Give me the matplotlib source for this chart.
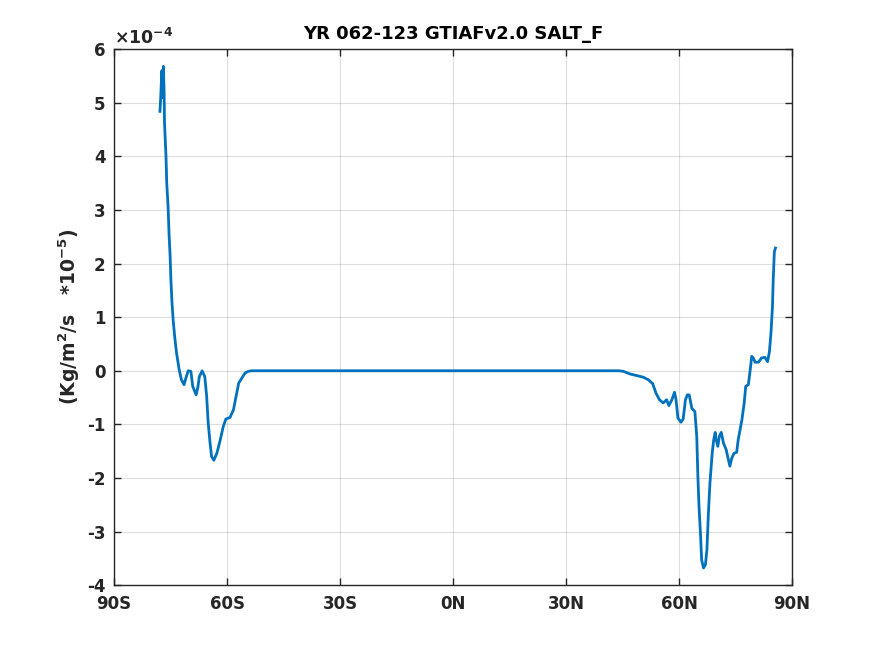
import matplotlib
matplotlib.use("Agg")
import matplotlib.pyplot as plt
import numpy as np

plt.rcParams['font.family'] = ['DejaVu Sans']
plt.rcParams['font.weight'] = 'bold'
plt.rcParams['mathtext.default'] = 'bf'

# latitude (deg, negative = south) and SALT_F in units of 1e-4
lat_south = [-77.8, -77.6, -77.3, -77.1, -76.9, -76.7, -76.6, -76.2, -76.0, -75.65,
             -75.4, -75.1, -74.9, -74.6, -74.3, -73.9, -73.4, -72.7, -72.1, -71.4,
             -70.9, -70.3, -69.6, -69.1, -68.2, -67.7, -67.35, -66.6, -65.9, -65.4,
             -65.0, -64.5, -64.1, -63.5, -62.7, -61.9, -61.0, -60.3, -59.2, -58.3,
             -57.6, -56.9, -56.1, -55.2, -54.3, -53.4]
val_south = [4.84, 5.10, 5.60, 5.10, 5.68, 5.20, 4.63, 4.00, 3.50, 3.07,
             2.57, 2.13, 1.70, 1.26, 0.95, 0.64, 0.33, 0.02, -0.17, -0.26,
             -0.13, 0.00, -0.01, -0.29, -0.45, -0.29, -0.11, 0.00, -0.11, -0.48,
             -0.97, -1.35, -1.60, -1.67, -1.54, -1.32, -1.04, -0.90, -0.87, -0.73,
             -0.48, -0.23, -0.14, -0.04, -0.01, 0.00]
lat_mid = [-40.0, -20.0, 0.0, 20.0, 40.0]
val_mid = [0.0, 0.0, 0.0, 0.0, 0.0]
lat_north = [43.9, 45.2, 47.0, 48.8, 50.5, 51.9, 53.0, 53.9, 54.8, 55.8,
             56.7, 57.3, 58.1, 58.8, 59.2, 59.7, 60.5, 61.1, 61.7, 62.2,
             62.7, 63.4, 64.2, 64.7, 65.0, 65.3, 65.7, 66.0, 66.5, 67.0,
             67.4, 67.8, 68.2, 68.8, 69.2, 69.6, 69.8, 70.3, 70.7, 71.2,
             71.8, 72.5, 73.1, 73.5, 74.0, 74.6, 75.3, 75.7, 76.2, 76.7,
             77.3, 77.7, 78.4, 78.9, 79.3, 79.7, 80.2, 81.1, 81.9, 82.8,
             83.5, 84.0, 84.4, 84.8, 85.0, 85.3, 85.6]
val_north = [0.00, -0.01, -0.06, -0.09, -0.12, -0.17, -0.24, -0.42, -0.54, -0.60,
             -0.54, -0.65, -0.54, -0.40, -0.54, -0.88, -0.96, -0.90, -0.54, -0.45,
             -0.45, -0.70, -0.76, -1.22, -1.97, -2.53, -3.06, -3.53, -3.68, -3.62,
             -3.34, -2.65, -2.10, -1.54, -1.29, -1.15, -1.27, -1.41, -1.22, -1.15,
             -1.35, -1.47, -1.66, -1.78, -1.63, -1.54, -1.52, -1.29, -1.10, -0.91,
             -0.60, -0.29, -0.26, 0.02, 0.27, 0.24, 0.16, 0.16, 0.24, 0.25,
             0.17, 0.36, 0.70, 1.20, 1.70, 2.22, 2.29]

lat = lat_south + lat_mid + lat_north
val = val_south + val_mid + val_north

xticks = [-90, -60, -30, 0, 30, 60, 90]
xticklabels = ['90S', '60S', '30S', '0N', '30N', '60N', '90N']
yticks = [-4, -3, -2, -1, 0, 1, 2, 3, 4, 5, 6]

dark = (0.15, 0.15, 0.15)
fig = plt.figure(figsize=(8.75, 6.56), dpi=100)
ax = fig.add_axes([0.1303, 0.108, 0.7749, 0.817])
ax.plot(lat, val, color=(0, 0.447, 0.741), linewidth=2)
ax.set_xlim(-90, 90)
ax.set_ylim(-4, 6)
ax.set_xticks(xticks)
ax.set_xticklabels(xticklabels)
ax.set_yticks(yticks)
ax.set_yticklabels([str(t) for t in yticks])
ax.grid(True, color=dark, alpha=0.15, linewidth=0.8)
ax.tick_params(direction='in', top=True, right=True, length=5, width=1,
               colors=dark, labelsize=12)
ax.tick_params(axis='x', pad=7)
ax.tick_params(axis='y', pad=6)
for lbl in ax.get_xticklabels() + ax.get_yticklabels():
    lbl.set_fontweight('bold')
for s in ax.spines.values():
    s.set_color(dark)
    s.set_linewidth(1)
ax.set_title('YR 062-123 GTIAFv2.0 SALT_F', fontsize=13, fontweight='bold', pad=7,
             color='black')
ax.set_ylabel('(Kg/m$^{2}$/s   *10$^{-5}$)', fontsize=13.5, fontweight='bold',
              color=dark, labelpad=4)
ax.text(0.0, 1.003, '$\\times$10$^{-4}$', transform=ax.transAxes, fontsize=12.5,
        fontweight='bold', color=dark, ha='left', va='bottom')
fig.savefig('out.png', dpi=100)
